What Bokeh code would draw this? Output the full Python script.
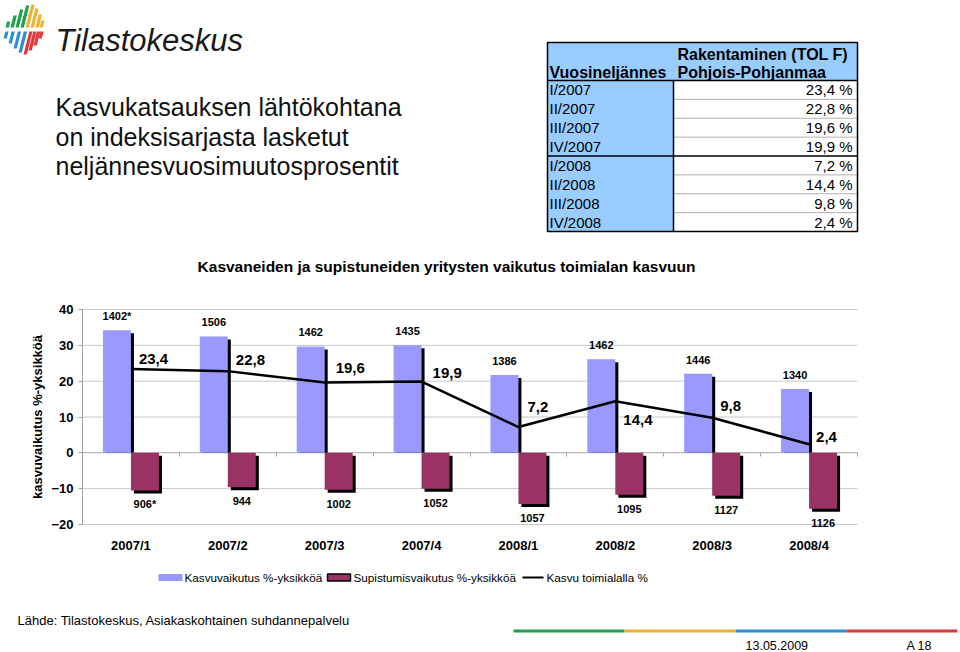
import numpy as np
from bokeh.plotting import figure
from bokeh.models import Range1d, LinearAxis, FixedTicker
from bokeh.core.properties import value
from bokeh.embed import file_html
from bokeh.resources import INLINE

# ---------------- data ----------------
CATEGORIES = ["2007/1", "2007/2", "2007/3", "2007/4", "2008/1", "2008/2", "2008/3", "2008/4"]
GROWTH_EFFECT = [34.2, 32.5, 29.7, 30.0, 21.7, 26.1, 22.1, 17.8]
SHRINK_EFFECT = [-10.5, -9.6, -10.3, -10.0, -14.3, -11.7, -12.0, -15.6]
INDUSTRY_GROWTH = [23.4, 22.8, 19.6, 19.9, 7.2, 14.4, 9.8, 2.4]
GROWING_FIRMS = ["1402*", "1506", "1462", "1435", "1386", "1462", "1446", "1340"]
SHRINKING_FIRMS = ["906*", "944", "1002", "1052", "1057", "1095", "1127", "1126"]
Y_TICKS = [-20, -10, 0, 10, 20, 30, 40]
TABLE_QUARTERS = ["I/2007", "II/2007", "III/2007", "IV/2007", "I/2008", "II/2008", "III/2008", "IV/2008"]

SERIES_NAMES = ["Kasvuvaikutus %-yksikköä", "Supistumisvaikutus %-yksikköä", "Kasvu toimialalla %"]
Y_LABEL = "kasvuvaikutus %-yksikköä"
CHART_TITLE = "Kasvaneiden ja supistuneiden yritysten vaikutus toimialan kasvuun"
HEADLINE = ["Kasvukatsauksen lähtökohtana", "on indeksisarjasta lasketut", "neljännesvuosimuutosprosentit"]
TABLE_HEAD = ["Rakentaminen (TOL F)", "Vuosineljännes", "Pohjois-Pohjanmaa"]
SOURCE = "Lähde: Tilastokeskus, Asiakaskohtainen suhdannepalvelu"
DATE = "13.05.2009"
PAGE = "A 18"
LOGO_TEXT = "Tilastokeskus"

# ---------------- style / layout ----------------
FONT = "Liberation Sans"
W, H = 960, 652
PL, PR, PT, PB = 82, 857, 309, 524
YMIN, YMAX = -20, 40
BAR_PX = 28
SHADOW_PX = 3
BLUE = "#9999FF"
MAROON = "#993366"
TBL_BLUE = "#99CCFF"
GRID = "#C8C8C8"
AXIS = "#A0A0A0"
LABEL_DX = [8, 8, 11, 11, 9, 8, 8, 7]              # pixel offsets of the line value labels
LABEL_DY = [-10, -11, -15, -9, -20, 19, -12, -7]

n = len(CATEGORIES)
ppx = (PR - PL) / n
ppy = (PB - PT) / (YMAX - YMIN)

p = figure(width=W, height=H,
           x_range=Range1d(-0.5 - PL / ppx, n - 0.5 + (W - PR) / ppx),
           y_range=Range1d(YMIN - (H - PB) / ppy, YMAX + PT / ppy),
           x_axis_type=None, y_axis_type=None,
           toolbar_location=None, output_backend="svg",
           min_border=0, outline_line_color=None,
           background_fill_color="white", border_fill_color="white")
p.extra_x_ranges = {"px": Range1d(0, W)}
p.extra_y_ranges = {"py": Range1d(H, 0)}

idx = np.arange(n, dtype=float)
bw = BAR_PX / ppx
shx = SHADOW_PX / ppx
shy = SHADOW_PX / ppy
growth_eff = np.array(GROWTH_EFFECT)
shrink_eff = np.array(SHRINK_EFFECT)
x_blue = idx - bw / 2
x_maroon = idx + bw / 2

# grid lines
p.segment(x0=-0.5, x1=n - 0.5, y0=Y_TICKS, y1=Y_TICKS, line_color=GRID, line_width=1)

# axes
yaxis = LinearAxis(ticker=FixedTicker(ticks=Y_TICKS), fixed_location=-0.5, bounds=(YMIN, YMAX),
                   axis_line_color=AXIS, major_tick_line_color=AXIS, major_tick_out=4, major_tick_in=0,
                   minor_tick_line_color=None, major_label_standoff=5,
                   major_label_text_font=FONT, major_label_text_font_size="13px",
                   major_label_text_font_style="bold", major_label_text_color="black",
                   axis_label=Y_LABEL, axis_label_standoff=3, axis_label_text_font=FONT,
                   axis_label_text_font_size="13px", axis_label_text_font_style="bold",
                   axis_label_text_color="black")
p.add_layout(yaxis, "left")

zaxis = LinearAxis(ticker=FixedTicker(ticks=[i - 0.5 for i in range(n + 1)]), fixed_location=0,
                   bounds=(-0.5, n - 0.5), axis_line_color=AXIS, major_tick_line_color=AXIS,
                   major_tick_out=4, major_tick_in=0, minor_tick_line_color=None,
                   major_label_text_font_size="0px", major_label_text_alpha=0)
zaxis.level = "underlay"
p.add_layout(zaxis, "below")

xaxis = LinearAxis(ticker=FixedTicker(ticks=list(range(n))),
                   major_label_overrides={i: c for i, c in enumerate(CATEGORIES)},
                   fixed_location=YMIN, bounds=(-0.5, n - 0.5), axis_line_color=None,
                   major_tick_line_color=None, minor_tick_line_color=None, major_label_standoff=7,
                   major_label_text_font=FONT, major_label_text_font_size="13px",
                   major_label_text_font_style="bold", major_label_text_color="black")
p.add_layout(xaxis, "below")

# shadows
p.vbar(x=x_blue + shx, width=bw, top=growth_eff - shy, bottom=0, fill_color="black", line_color=None)
p.vbar(x=x_maroon + shx, width=bw, top=-shy, bottom=shrink_eff - shy, fill_color="black", line_color=None)
# bars
p.vbar(x=x_blue, width=bw, top=growth_eff, bottom=0, fill_color=BLUE, line_color=None)
p.vbar(x=x_maroon, width=bw, top=0, bottom=shrink_eff, fill_color=MAROON, line_color=None)
# line
p.line(x=idx, y=INDUSTRY_GROWTH, line_color="black", line_width=2.5)

# labels on chart
p.text(x=x_blue, y=growth_eff, text=GROWING_FIRMS, y_offset=-14, text_align="center",
       text_baseline="middle", text_font=value(FONT), text_font_size="11px", text_font_style="bold",
       text_color="black")
p.text(x=x_maroon, y=shrink_eff, text=SHRINKING_FIRMS, y_offset=14, text_align="center",
       text_baseline="middle", text_font=value(FONT), text_font_size="11px", text_font_style="bold",
       text_color="black")
p.text(x=idx, y=INDUSTRY_GROWTH, text=[f"{v:.1f}".replace(".", ",") for v in INDUSTRY_GROWTH],
       x_offset=LABEL_DX, y_offset=LABEL_DY, text_align="left", text_baseline="middle",
       text_font=value(FONT), text_font_size="15px", text_font_style="bold", text_color="black")


# ---------------- decorations (pixel coordinates) ----------------
def txt(x, y, s, size, style="normal", align="left", baseline="middle", color="black"):
    p.text(x=[x], y=[y], text=[s], x_range_name="px", y_range_name="py",
           text_font=value(FONT), text_font_size=f"{size}px", text_font_style=style,
           text_align=align, text_baseline=baseline, text_color=color)


def box(l, r, t, b, fill=None, line=None, lw=1):
    p.quad(left=[l], right=[r], top=[t], bottom=[b], x_range_name="px", y_range_name="py",
           fill_color=fill, line_color=line, line_width=lw)


def seg(x0, y0, x1, y1, color="black", lw=1):
    p.segment(x0=[x0], y0=[y0], x1=[x1], y1=[y1], x_range_name="px", y_range_name="py",
              line_color=color, line_width=lw)


# logo
LOGO_GREEN, LOGO_YELLOW, LOGO_BLUE, LOGO_RED = "#1FA04A", "#F0B233", "#2A8FD6", "#DE3A3C"
top_stripes = [(5, 21), (10, 15), (15, 9), (20, 5), (25, 4), (30, 8), (35, 14), (39, 20)]
bot_stripes = [(3, 38), (8, 43), (13, 48), (18, 52), (23, 54), (28, 50), (33, 45), (38, 38)]
xs, ys, cs = [], [], []
slant = 0.25
for k, (x0, yt) in enumerate(top_stripes):
    yb = 27
    d = slant * (yb - yt)
    xs.append([x0, x0 + 3.3, x0 + 3.3 + d, x0 + d])
    ys.append([yb, yb, yt, yt])
    cs.append(LOGO_GREEN if k < 4 else LOGO_YELLOW)
for k, (x0, yb) in enumerate(bot_stripes):
    yt = 31
    d = slant * (yb - yt)
    xs.append([x0, x0 + 3.3, x0 + 3.3 + d, x0 + d])
    ys.append([yb, yb, yt, yt])
    cs.append(LOGO_BLUE if k < 4 else LOGO_RED)
p.patches(xs=xs, ys=ys, fill_color=cs, line_color=None, x_range_name="px", y_range_name="py")
p.text(x=[55], y=[40], text=[LOGO_TEXT], x_range_name="px", y_range_name="py",
       text_font=value(FONT), text_font_size="31px", text_font_style="italic",
       text_baseline="alphabetic", text_color="#1a1a1a")

# headline
for k, line in enumerate(HEADLINE):
    txt(55, 106.7 + k * 29.5, line, 25, baseline="alphabetic", color="#111111")

# table
TX0, TXM, TX1 = 547, 673, 857
TY0, TYH, TY1 = 42, 80, 231
nrow = len(TABLE_QUARTERS)
rh = (TY1 - TYH) / nrow
box(TX0, TX1, TY0, TYH, fill=TBL_BLUE)
box(TX0, TXM, TYH, TY1, fill=TBL_BLUE)
box(TXM, TX1, TYH, TY1, fill="white")
for k in range(1, nrow):
    if k != 4:
        seg(TXM, TYH + k * rh, TX1, TYH + k * rh, color="#B0B0B0", lw=1)
seg(TX0, TYH, TX1, TYH, lw=1.5)
seg(TX0, TYH + 4 * rh, TX1, TYH + 4 * rh, lw=1.5)
seg(TXM, TYH, TXM, TY1, lw=1.5)
box(TX0, TX1, TY0, TY1, fill=None, line="black", lw=1.5)
txt(677, 54, TABLE_HEAD[0], 16, style="bold")
txt(549, 71.5, TABLE_HEAD[1], 16, style="bold")
txt(677, 71.5, TABLE_HEAD[2], 16, style="bold")
for k, (q, v) in enumerate(zip(TABLE_QUARTERS, INDUSTRY_GROWTH)):
    yc = TYH + (k + 0.5) * rh
    txt(549, yc, q, 15)
    txt(852, yc, f"{v:.1f}".replace(".", ",") + " %", 15, align="right")

# chart title
txt(446, 266, CHART_TITLE, 15.5, style="bold", align="center")

# legend
LY = 577
box(158, 182, LY - 3.5, LY + 3.5, fill=BLUE)
txt(184, LY, SERIES_NAMES[0], 11.7)
box(327, 350, LY - 3.5, LY + 3.5, fill=MAROON, line="black", lw=1.5)
txt(353, LY, SERIES_NAMES[1], 11.7)
seg(522, LY, 543, LY, lw=2)
txt(546, LY, SERIES_NAMES[2], 11.7)

# footer
txt(17, 620, SOURCE, 13)
bar_x = [513, 624, 735, 846, 957]
for k, c in enumerate([LOGO_GREEN, LOGO_YELLOW, LOGO_BLUE, LOGO_RED]):
    seg(bar_x[k], 630.5, bar_x[k + 1], 630.5, color=c, lw=3)
txt(745, 645, DATE, 12.5)
txt(906, 645, PAGE, 12.5)

open("out.html", "w").write(file_html(p, INLINE))
